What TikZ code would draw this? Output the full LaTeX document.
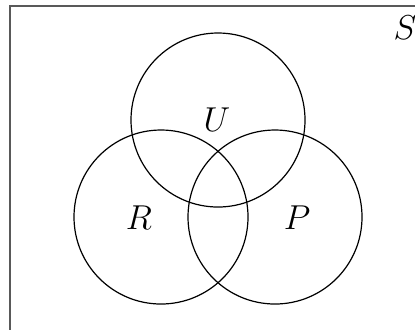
\documentclass[tikz,border=0pt]{standalone}
\begin{document}
\begin{tikzpicture}[x=0.5pt,y=-0.5pt, set/.style={line width=0.6pt, black}, lbl/.style={font=\fontsize{16.8}{20}\selectfont}]
	\useasboundingbox (0,0) rectangle (415,329);
	\clip (0,0) rectangle (415,329);
	\draw [line width=0.8pt, black!65] (10,6) rectangle (430,340);
	\draw [set] (218,120) circle [radius=87];
	\draw [set] (161,217) circle [radius=87];
	\draw [set] (275,217) circle [radius=87];
	\node [lbl] (lU) at (217,120) {$U$};
	\node [lbl] (lR) at (139,218) {$R$};
	\node [lbl] (lP) at (297,218) {$P$};
	\node [lbl] (lS) at (405,28) {$S$};
\end{tikzpicture}
\end{document}
